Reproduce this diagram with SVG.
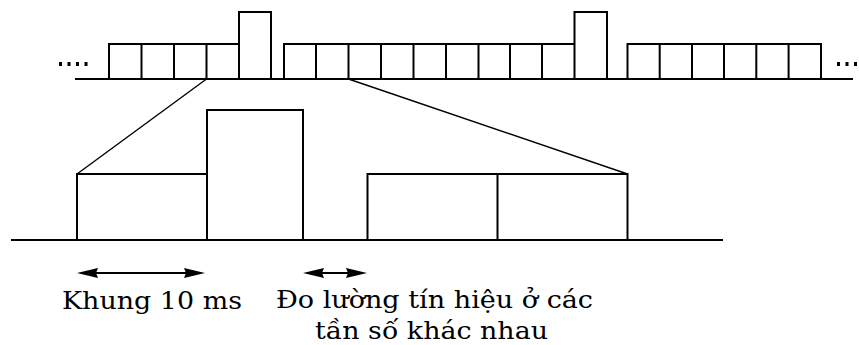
<svg xmlns="http://www.w3.org/2000/svg" width="859" height="345" viewBox="0 0 859 345">
<style>
.ln{fill:none;stroke:#000;stroke-width:2;stroke-linecap:square}
.cn{fill:none;stroke:#000;stroke-width:1.4}
.dot{fill:#000}
.ah{fill:#000}
.lbl{font-family:"DejaVu Serif","Liberation Serif",serif;font-size:24px;fill:#000}
</style>
<rect width="859" height="345" fill="#fff"/>
<g id="top-frames">
<line class="ln" x1="76" y1="79" x2="852" y2="79"/>
<path class="ln" d="M109,79V44H239M141.5,44V79M174,44V79M206.5,44V79M239,79V12H271V79"/>
<path class="ln" d="M284,79V44H574.5M316,44V79M348.5,44V79M381,44V79M413.5,44V79M446,44V79M478.5,44V79M510,44V79M542,44V79M574.5,79V12H607V79"/>
<path class="ln" d="M627.5,79V44H821V79M659.7,44V79M692,44V79M724,44V79M756.3,44V79M788.6,44V79"/>
<rect class="dot" x="59" y="62" width="3" height="4"/>
<rect class="dot" x="67.5" y="62" width="3" height="4"/>
<rect class="dot" x="76" y="62" width="3" height="4"/>
<rect class="dot" x="84.5" y="62" width="3" height="4"/>
<rect class="dot" x="837" y="62" width="3" height="4"/>
<rect class="dot" x="845.5" y="62" width="3" height="4"/>
<rect class="dot" x="854" y="62" width="3" height="4"/>
</g>
<g id="bottom-blocks">
<line class="ln" x1="12" y1="240" x2="722" y2="240"/>
<path id="frame-10ms" class="ln" d="M77,240V174H207V240"/>
<path id="measure-slot" class="ln" d="M207,174V110H303V240"/>
<path id="freq-frames" class="ln" d="M367.5,240V174H627.5V240M497.5,174V240"/>
</g>
<g id="connectors">
<line class="cn" x1="206.5" y1="79" x2="77" y2="174"/>
<line class="cn" x1="348.5" y1="79" x2="627.5" y2="174"/>
<line class="ln" x1="90" y1="273" x2="192" y2="273"/>
<polygon class="ah" points="77,273 98,268 96,273 98,278"/>
<polygon class="ah" points="205,273 184,268 186,273 184,278"/>
<line class="ln" x1="315" y1="273" x2="355" y2="273"/>
<polygon class="ah" points="303,273 324,268 322,273 324,278"/>
<polygon class="ah" points="367,273 346,268 348,273 346,278"/>
</g>
<g id="labels">
<text class="lbl" x="62" y="309" textLength="180" lengthAdjust="spacingAndGlyphs">Khung 10 ms</text>
<text class="lbl" x="276" y="308" textLength="317" lengthAdjust="spacingAndGlyphs">Đo lường tín hiệu ở các</text>
<text class="lbl" x="315" y="339" textLength="233" lengthAdjust="spacingAndGlyphs">tần số khác nhau</text>
</g>
</svg>
